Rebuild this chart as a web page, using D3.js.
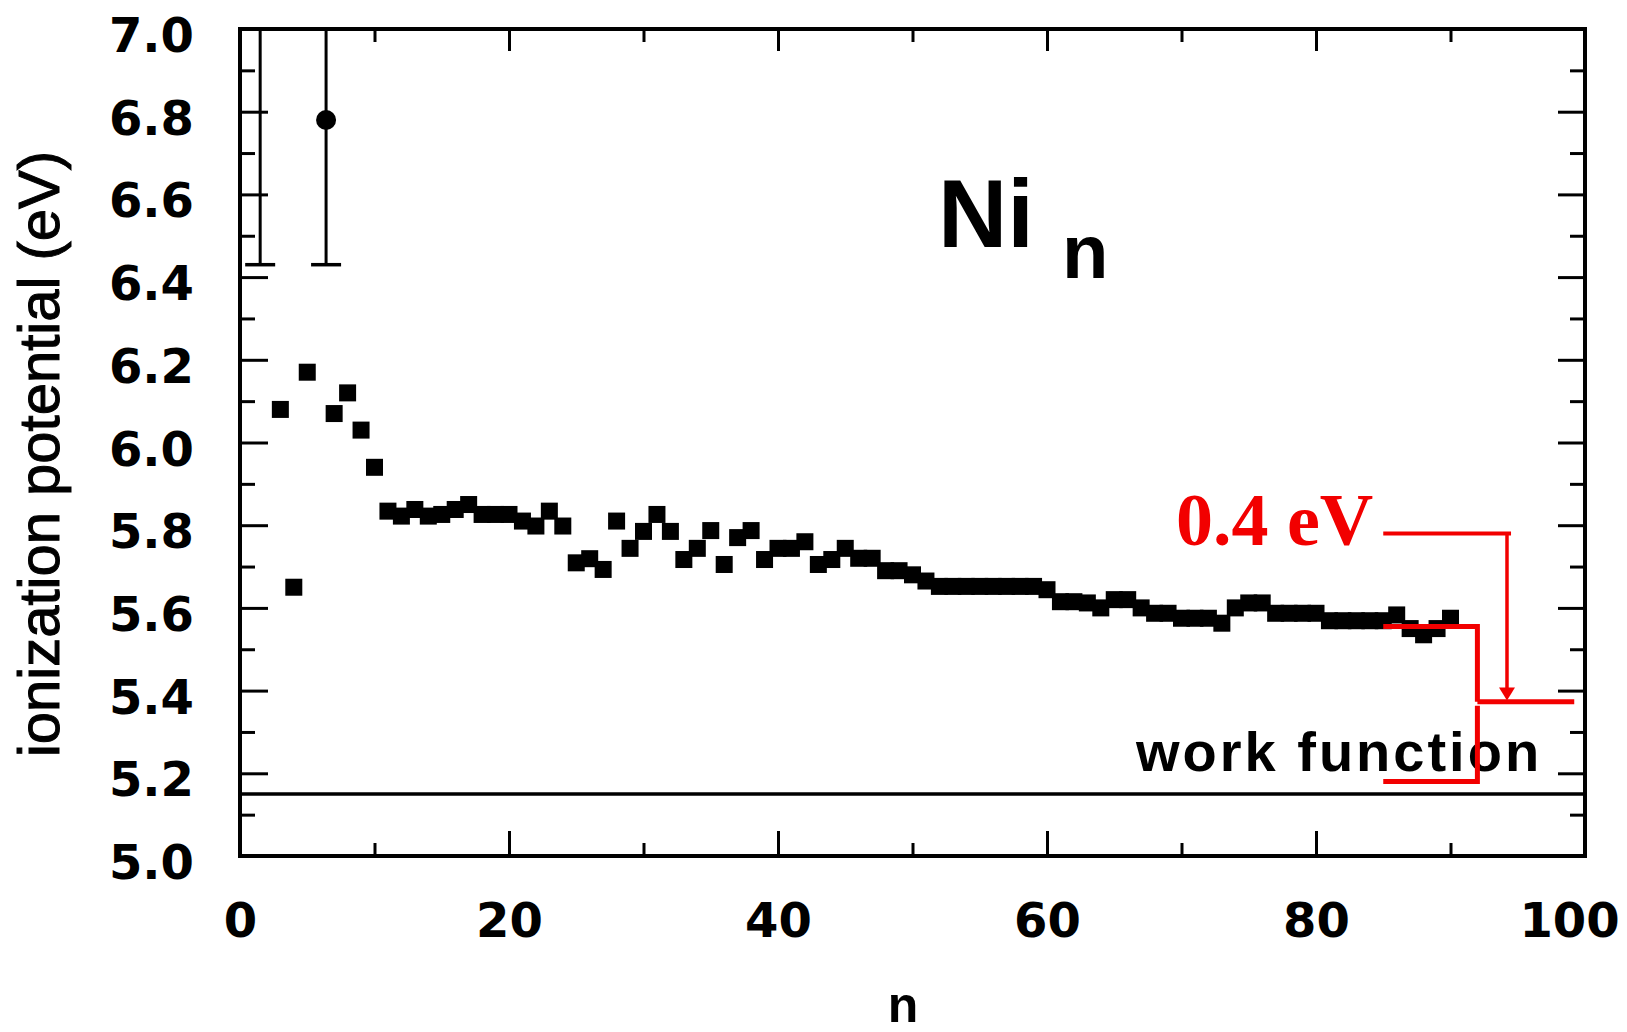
<!DOCTYPE html>
<html>
<head>
<meta charset="utf-8">
<script src="https://cdn.jsdelivr.net/npm/d3@7"></script>
<style>
body { margin: 0; background: white; }
</style>
</head>
<body>
<script>
var width = 1627, height = 1032;

// cluster size n and ionization potential (eV)
var sizes = [3, 4, 5, 7, 8, 9, 10, 11, 12, 13, 14, 15, 16, 17, 18, 19, 20, 21, 22, 23, 24, 25, 26, 27, 28, 29,
    30, 31, 32, 33, 34, 35, 36, 37, 38, 39, 40, 41, 42, 43, 44, 45, 46, 47, 48, 49, 50, 51, 52, 53, 54, 55, 56,
    57, 58, 59, 60, 61, 62, 63, 64, 65, 66, 67, 68, 69, 70, 71, 72, 73, 74, 75, 76, 77, 78, 79, 80, 81, 82, 83,
    84, 85, 86, 87, 88, 89, 90];
var potentials = [6.08, 5.65, 6.17, 6.07, 6.12, 6.03, 5.94, 5.834, 5.822, 5.838, 5.822, 5.826, 5.838, 5.85, 5.826,
    5.826, 5.826, 5.81, 5.798, 5.834, 5.798, 5.709, 5.719, 5.693, 5.81, 5.744, 5.785, 5.826, 5.785, 5.717, 5.744,
    5.787, 5.705, 5.77, 5.787, 5.717, 5.744, 5.744, 5.76, 5.705, 5.717, 5.744, 5.72, 5.72, 5.69, 5.69, 5.68, 5.665,
    5.652, 5.652, 5.652, 5.652, 5.652, 5.652, 5.652, 5.652, 5.644, 5.615, 5.615, 5.612, 5.60, 5.62, 5.62, 5.60,
    5.587, 5.587, 5.575, 5.575, 5.575, 5.563, 5.60, 5.612, 5.612, 5.587, 5.587, 5.587, 5.587, 5.569, 5.569, 5.569,
    5.569, 5.569, 5.583, 5.55, 5.535, 5.55, 5.575];

// the two small clusters with error bars (upper ends run off the top)
var barN = [1.5, 6.4];
var barValue = [7.3, 6.78];
var barLow = [6.43, 6.43];
var barHigh = [8.2, 7.13];
var barShowPoint = [false, true];

var workFunction = 5.15;

var xTicksMajor = [0, 20, 40, 60, 80, 100];
var xTicksMinor = [10, 30, 50, 70, 90];
var yTicksMajor = [5.0, 5.2, 5.4, 5.6, 5.8, 6.0, 6.2, 6.4, 6.6, 6.8, 7.0];
var yTicksMinor = [5.1, 5.3, 5.5, 5.7, 5.9, 6.1, 6.3, 6.5, 6.7, 6.9];

// red annotation (data units)
var braceX = [85, 92, 99.2];
var braceY = [5.555, 5.373, 5.18];
var gapLineX = [85, 94.5];
var gapLineY = 5.78;
var arrowX = 94.2;
var arrowTipY = 5.376;
var gapLabel = "0.4 eV";

var x = d3.scaleLinear().domain([0, 100]).range([240, 1585]);
var y = d3.scaleLinear().domain([5.0, 7.0]).range([856, 29]);

var svg = d3.select("body").append("svg")
    .attr("width", width)
    .attr("height", height)
    .style("background-color", "white");

svg.append("defs").append("clipPath")
    .attr("id", "plotclip")
    .append("rect")
    .attr("x", x(0)).attr("y", y(7))
    .attr("width", x(100) - x(0)).attr("height", y(5) - y(7));

function tickAxis(axis, pos, size, labels) {
    var g = svg.append("g").attr("transform", pos);
    g.call(axis.tickSize(size));
    g.select(".domain").remove();
    g.selectAll(".tick line").attr("stroke", "black").attr("stroke-width", 3);
    if (!labels) g.selectAll("text").remove();
    return g;
}

var fmt = d3.format(".1f");

// left
var gl = tickAxis(d3.axisLeft(y).tickValues(yTicksMajor).tickFormat(fmt).tickPadding(46),
    "translate(" + x(0) + ",0)", -28, true);
gl.selectAll("text")
    .attr("dy", "0.47em")
    .style("font-family", "DejaVu Sans")
    .style("font-weight", "bold")
    .style("font-size", "48px")
    .attr("fill", "black");
tickAxis(d3.axisLeft(y).tickValues(yTicksMinor), "translate(" + x(0) + ",0)", -15, false);

// right
tickAxis(d3.axisRight(y).tickValues(yTicksMajor), "translate(" + x(100) + ",0)", -27, false);
tickAxis(d3.axisRight(y).tickValues(yTicksMinor), "translate(" + x(100) + ",0)", -15, false);

// bottom
var gb = tickAxis(d3.axisBottom(x).tickValues(xTicksMajor).tickFormat(d3.format("d")).tickPadding(47),
    "translate(0," + y(5) + ")", -25, true);
gb.selectAll("text")
    .attr("dx", function(d) { return d == 100 ? -16 : 0; })
    .style("font-family", "DejaVu Sans")
    .style("font-weight", "bold")
    .style("font-size", "48px")
    .attr("fill", "black");
tickAxis(d3.axisBottom(x).tickValues(xTicksMinor), "translate(0," + y(5) + ")", -13, false);

// top
tickAxis(d3.axisTop(x).tickValues(xTicksMajor), "translate(0," + y(7) + ")", -22, false);
tickAxis(d3.axisTop(x).tickValues(xTicksMinor), "translate(0," + y(7) + ")", -13, false);

// frame
svg.append("rect")
    .attr("x", x(0)).attr("y", y(7))
    .attr("width", x(100) - x(0)).attr("height", y(5) - y(7))
    .attr("fill", "none")
    .attr("stroke", "black")
    .attr("stroke-width", 4);

// work function line
svg.append("line")
    .attr("x1", x(0)).attr("x2", x(100))
    .attr("y1", y(workFunction)).attr("y2", y(workFunction))
    .attr("stroke", "black")
    .attr("stroke-width", 3.5);

svg.append("text")
    .attr("x", 1136).attr("y", 771)
    .style("font-family", "Liberation Sans")
    .style("font-weight", "bold")
    .style("font-size", "56px")
    .style("letter-spacing", "3px")
    .text("work function");

// error bars
var bars = svg.append("g").attr("clip-path", "url(#plotclip)");
for (var i = 0; i < barN.length; i++) {
    var bx = x(barN[i]);
    bars.append("line")
        .attr("x1", bx).attr("x2", bx)
        .attr("y1", y(barLow[i])).attr("y2", y(barHigh[i]))
        .attr("stroke", "black").attr("stroke-width", 3);
    bars.append("line")
        .attr("x1", bx - 15).attr("x2", bx + 15)
        .attr("y1", y(barLow[i])).attr("y2", y(barLow[i]))
        .attr("stroke", "black").attr("stroke-width", 3.5);
    if (barShowPoint[i]) {
        bars.append("circle")
            .attr("cx", bx).attr("cy", y(barValue[i]))
            .attr("r", 10)
            .attr("fill", "black");
    }
}

// squares
var sq = 17;
svg.append("g")
    .selectAll("rect")
    .data(sizes)
    .enter().append("rect")
    .attr("x", function(d) { return x(d) - sq / 2; })
    .attr("y", function(d, i) { return y(potentials[i]) - sq / 2; })
    .attr("width", sq)
    .attr("height", sq)
    .attr("fill", "black");

// title Ni_n
var title = svg.append("text")
    .attr("x", 938).attr("y", 247)
    .style("font-family", "Liberation Sans")
    .style("font-weight", "bold")
    .style("font-size", "96px");
title.append("tspan").text("Ni");
title.append("tspan")
    .attr("x", 1062).attr("y", 278)
    .style("font-size", "76px")
    .text("n");

// axis titles
svg.append("text")
    .attr("transform", "translate(59,454) rotate(-90)")
    .attr("text-anchor", "middle")
    .style("font-family", "Liberation Sans")
    .style("font-size", "58px")
    .attr("stroke", "black")
    .attr("stroke-width", 1)
    .text("ionization potential (eV)");

svg.append("text")
    .attr("x", 903).attr("y", 1022)
    .attr("text-anchor", "middle")
    .style("font-family", "Liberation Sans")
    .style("font-weight", "bold")
    .style("font-size", "50px")
    .text("n");

// red annotation
var red = "#f20000";
svg.append("path")
    .attr("d", "M" + x(braceX[0]) + "," + y(braceY[0]) + "H" + x(braceX[1]) + "V" + y(braceY[1]))
    .attr("fill", "none").attr("stroke", red).attr("stroke-width", 5);
svg.append("path")
    .attr("d", "M" + x(braceX[1]) + "," + y(braceY[1]) + "H" + x(braceX[2]))
    .attr("fill", "none").attr("stroke", red).attr("stroke-width", 5);
svg.append("path")
    .attr("d", "M" + x(braceX[1]) + "," + (y(braceY[1]) + 4) + "V" + y(braceY[2]) + "H" + x(braceX[0]))
    .attr("fill", "none").attr("stroke", red).attr("stroke-width", 5);

svg.append("path")
    .attr("d", "M" + x(gapLineX[0]) + "," + y(gapLineY) + "H" + x(gapLineX[1]))
    .attr("fill", "none").attr("stroke", red).attr("stroke-width", 4);
svg.append("line")
    .attr("x1", x(arrowX)).attr("x2", x(arrowX))
    .attr("y1", y(gapLineY)).attr("y2", y(arrowTipY) - 10)
    .attr("stroke", red).attr("stroke-width", 3.5);
var ax = x(arrowX), ay = y(arrowTipY);
svg.append("path")
    .attr("d", "M" + (ax - 8) + "," + (ay - 13) + "L" + (ax + 8) + "," + (ay - 13) + "L" + ax + "," + ay + "Z")
    .attr("fill", red);

svg.append("text")
    .attr("x", 1176).attr("y", 545)
    .style("font-family", "Liberation Serif")
    .style("font-weight", "bold")
    .style("font-size", "74px")
    .attr("fill", red)
    .text(gapLabel);
</script>
</body>
</html>
